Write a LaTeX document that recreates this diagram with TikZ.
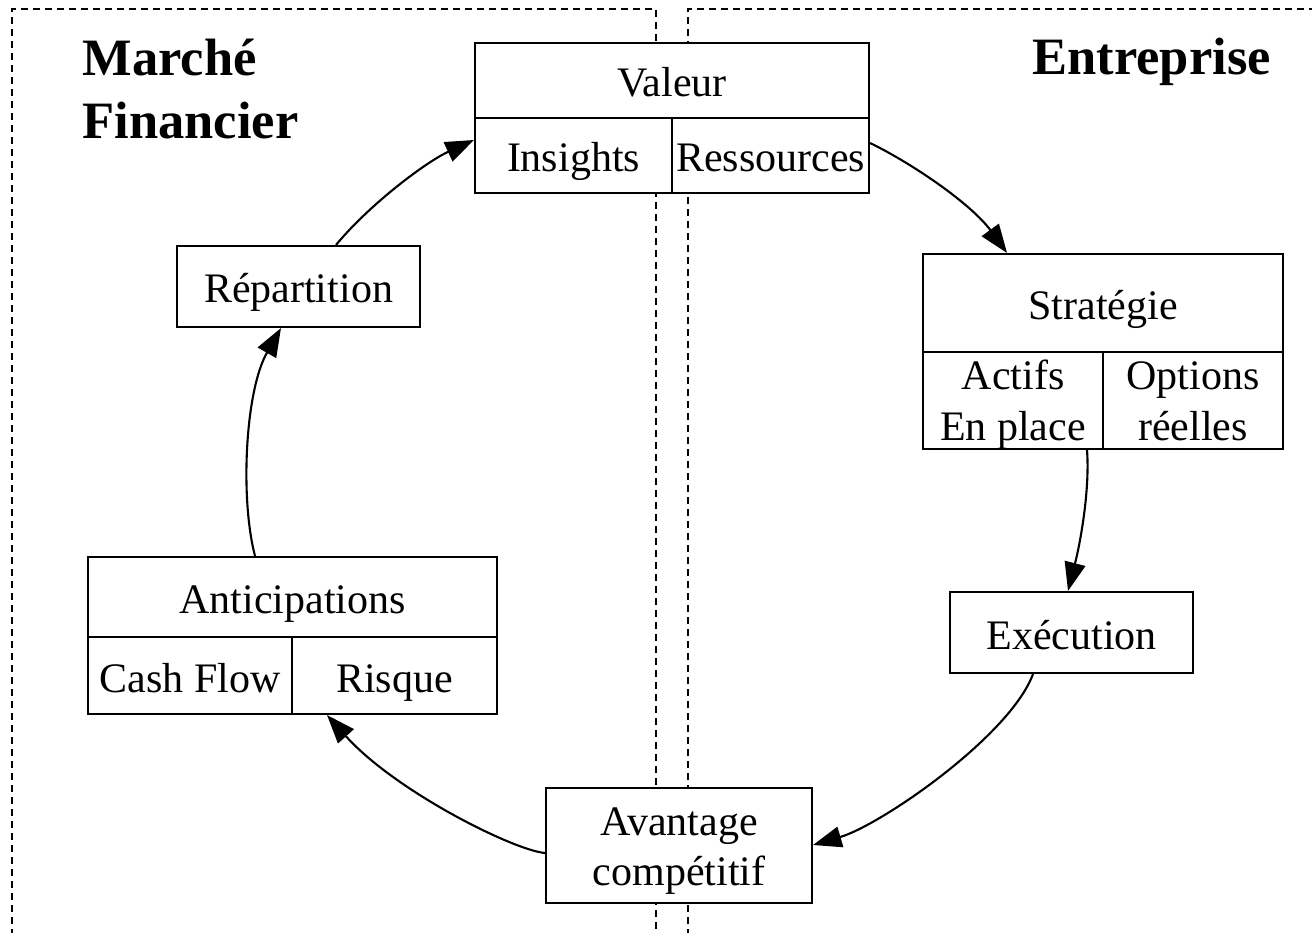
\documentclass[tikz,border=0pt]{standalone}
\usepackage{fontspec}
\setmainfont{Liberation Serif}
\usetikzlibrary{arrows.meta,calc}
% two centred lines; the box baseline is that of the first line
\newcommand\twolines[2]{\vtop{\baselineskip=16.8pt
  \hbox to 0pt{\hss#1\hss}\hbox to 0pt{\hss#2\hss}}}
\begin{document}
\begin{tikzpicture}[x=0.33333pt,y=-0.33333pt,
  cellbase/.style={draw, fill=white, line width=0.7pt, inner sep=0pt,
    font=\fontsize{14pt}{16.8pt}\selectfont},
  cell/.style={cellbase, text height=13pt, text depth=2pt},
  cellm/.style={cellbase, text height=5pt, text depth=12pt},
  cluster/.style={line width=0.7pt, dash pattern=on 2.3pt off 1.7pt},
  flow/.style={line width=0.7pt, -{Triangle[length=9.5pt,width=7pt]}},
  title/.style={font=\fontsize{17.5pt}{21pt}\selectfont\bfseries,
    anchor=base west, inner sep=0pt}]
\useasboundingbox (0,0) rectangle (1312,933);

% dashed cluster frames
\begin{scope}
  \clip (0,0) rectangle (1312,933);
  \draw[cluster] (12,960) -- (12,9) -- (656,9) -- (656,960);
  \draw[cluster] (688,960) -- (688,9) -- (1330,9);
\end{scope}

% cluster titles
\node[title] (mf1) at (82,76) {Marché};
\node[title] (mf2) at (82,139) {Financier};
\node[title] (ent) at (1032,75) {Entreprise};

% Valeur record
\node[cell, minimum width=131.33pt, minimum height=25pt] (val) at (672,80.5) {Valeur};
\node[cell, minimum width=65.67pt, minimum height=25pt] (ins) at (573.5,155.5) {Insights};
\node[cell, minimum width=65.67pt, minimum height=25pt] (res) at (770.5,155.5) {Ressources};

% Stratégie record
\node[cell, minimum width=120pt, minimum height=32.67pt] (str) at (1103,303) {Stratégie};
\node[cellm, minimum width=60pt, minimum height=32.33pt] (act) at (1013,400.5) {\twolines{Actifs}{En place}};
\node[cellm, minimum width=60pt, minimum height=32.33pt] (opt) at (1193,400.5) {\twolines{Options}{réelles}};

% Anticipations record
\node[cell, minimum width=136.33pt, minimum height=26.67pt] (anti) at (292.5,597) {Anticipations};
\node[cell, minimum width=68pt, minimum height=25.67pt] (cash) at (190,675.5) {Cash Flow};
\node[cell, minimum width=68.33pt, minimum height=25.67pt] (risk) at (394.5,675.5) {Risque};

% plain nodes
\node[cellm, minimum width=88.67pt, minimum height=38.33pt] (avan) at (679,845.5) {\twolines{Avantage}{compétitif}};
\node[cell, minimum width=81pt, minimum height=27pt] (exe) at (1071.5,632.5) {Exécution};
\node[cell, minimum width=81pt, minimum height=27pt] (rep) at (298.5,286.5) {Répartition};

% cycle connectors
\draw[flow] ($(rep.north)+(37.5,0)$) .. controls +(34,-41) and +(-48,22) .. ($(ins.west)+(0,-15.5)$);
\draw[flow] ($(res.east)+(0,-12.5)$) .. controls +(45,22) and +(-35,-48) .. ($(str.north)+(-96,0)$);
\draw[flow] ($(act.south)+(74,0)$) .. controls +(3,41) and +(12,-47) .. ($(exe.north)+(-3.5,0)$);
\draw[flow] ($(exe.south)+(-38.5,0)$) .. controls +(-23,62) and +(68,-20) .. ($(avan.east)+(0,-0.5)$);
\draw[flow] ($(avan.west)+(0,7.5)$) .. controls +(-32,-3) and +(68,76) .. ($(risk.south)+(-67.5,0)$);
\draw[flow] ($(anti.north)+(-37.5,0)$) .. controls +(-15,-57) and +(-36,63) .. ($(rep.south)+(-17.5,0)$);
\end{tikzpicture}
\end{document}
